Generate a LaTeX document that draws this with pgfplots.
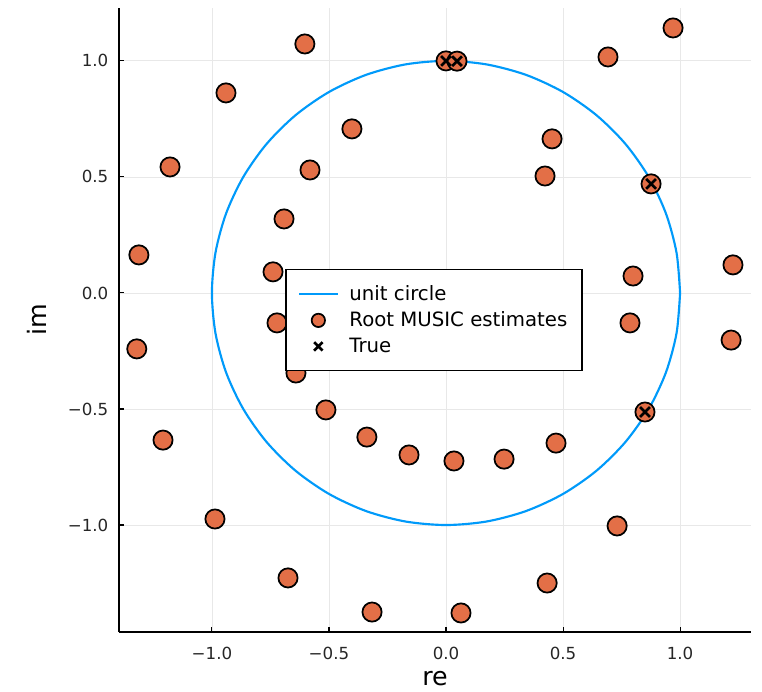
\documentclass[border=0pt]{standalone}
\usepackage{fontspec}
\setmainfont{DejaVu Sans}
\usepackage{pgfplots}
\pgfplotsset{compat=1.18}
\definecolor{jblue}{RGB}{0,154,250}
\definecolor{jorange}{RGB}{227,111,71}
\definecolor{jgrid}{RGB}{232,232,232}
\begin{document}
\begin{tikzpicture}
\begin{axis}[
  name=ax,
  scale only axis,
  width=474pt, height=468pt,
  xmin=-1.397, xmax=1.303, ymin=-1.461, ymax=1.228,
  axis x line=bottom, axis y line=left,
  axis line style={line width=1.2pt, -},
  xtick={-1,-0.5,0,0.5,1}, ytick={-1,-0.5,0,0.5,1},
  xticklabels={−1.0,−0.5,0.0,0.5,1.0},
  yticklabels={−1.0,−0.5,0.0,0.5,1.0},
  tick label style={font=\fontsize{12.5}{14}\selectfont, text=black!85},
  xticklabel shift=7.5pt, yticklabel shift=4.5pt,
  tick align=inside, major tick length=4pt,
  tick style={black, line width=0.8pt},
  grid=major, major grid style={jgrid, line width=0.6pt},
  xlabel={re}, ylabel={im},
  label style={font=\fontsize{19}{22}\selectfont},
  x label style={at={(axis description cs:0.5,-0.074)}, anchor=center},
  y label style={at={(axis description cs:-0.13,0.5)}, anchor=center, rotate=0},
  legend style={at={(rel axis cs:0.263,0.582)}, anchor=north west,
    draw=black, line width=1.1pt, fill=white,
    font=\fontsize{14.8}{17}\selectfont, row sep=3pt, column sep=6pt,
    inner xsep=9pt, inner ysep=10pt},
  legend cell align=left,
  legend image code/.code={\draw[mark repeat=2,mark phase=2,#1] plot coordinates {(0pt,0pt) (14.5pt,0pt) (29pt,0pt)};},
  clip=false,
]
\addplot[jblue, line width=1.6pt, smooth] coordinates {
(1,0) (0.9848,0.1736) (0.9397,0.3420) (0.8660,0.5) (0.7660,0.6428) (0.6428,0.7660)
(0.5,0.8660) (0.3420,0.9397) (0.1736,0.9848) (0,1) (-0.1736,0.9848) (-0.3420,0.9397)
(-0.5,0.8660) (-0.6428,0.7660) (-0.7660,0.6428) (-0.8660,0.5) (-0.9397,0.3420) (-0.9848,0.1736)
(-1,0) (-0.9848,-0.1736) (-0.9397,-0.3420) (-0.8660,-0.5) (-0.7660,-0.6428) (-0.6428,-0.7660)
(-0.5,-0.8660) (-0.3420,-0.9397) (-0.1736,-0.9848) (0,-1) (0.1736,-0.9848) (0.3420,-0.9397)
(0.5,-0.8660) (0.6428,-0.7660) (0.7660,-0.6428) (0.8660,-0.5) (0.9397,-0.3420) (0.9848,-0.1736)
(1,0)};
\addlegendentry{unit circle}
\addplot[only marks, mark=*, mark size=7.2pt,
  mark options={fill=jorange, draw=black, line width=1.3pt},
  legend image post style={mark size=5pt}] coordinates {
(-0.603,1.073) (-0.940,0.862) (-1.179,0.543) (-1.312,0.164) (-1.321,-0.241)
(-1.209,-0.634) (-0.987,-0.974) (-0.675,-1.228) (-0.316,-1.375) (0.064,-1.379)
(0.432,-1.250) (0.731,-1.004) (1.218,-0.203) (1.226,0.121) (0.970,1.142)
(0.692,1.017) (0.0,1.0) (0.047,0.999) (-0.402,0.707) (-0.581,0.530)
(-0.692,0.319) (-0.739,0.091) (-0.722,-0.129) (-0.641,-0.345) (-0.513,-0.504)
(-0.338,-0.621) (-0.158,-0.698) (0.034,-0.724) (0.248,-0.716) (0.470,-0.647)
(0.850,-0.513) (0.786,-0.129) (0.799,0.073) (0.876,0.470) (0.423,0.504)
(0.453,0.664)};
\addlegendentry{Root MUSIC estimates}
\addplot[only marks, mark=x, mark size=5.2pt,
  mark options={draw=black, line width=2pt},
  legend image post style={mark size=4.5pt}] coordinates {
(0.0,1.0) (0.047,0.999) (0.876,0.470) (0.850,-0.513)};
\addlegendentry{True}
\end{axis}
\pgfresetboundingbox
\path (ax.south west) ++(-89.25pt,-44.25pt) coordinate (bl);
\path (ax.north east) ++(8.25pt,6pt) coordinate (tr);
\useasboundingbox (bl) rectangle (tr);
\end{tikzpicture}
\end{document}
